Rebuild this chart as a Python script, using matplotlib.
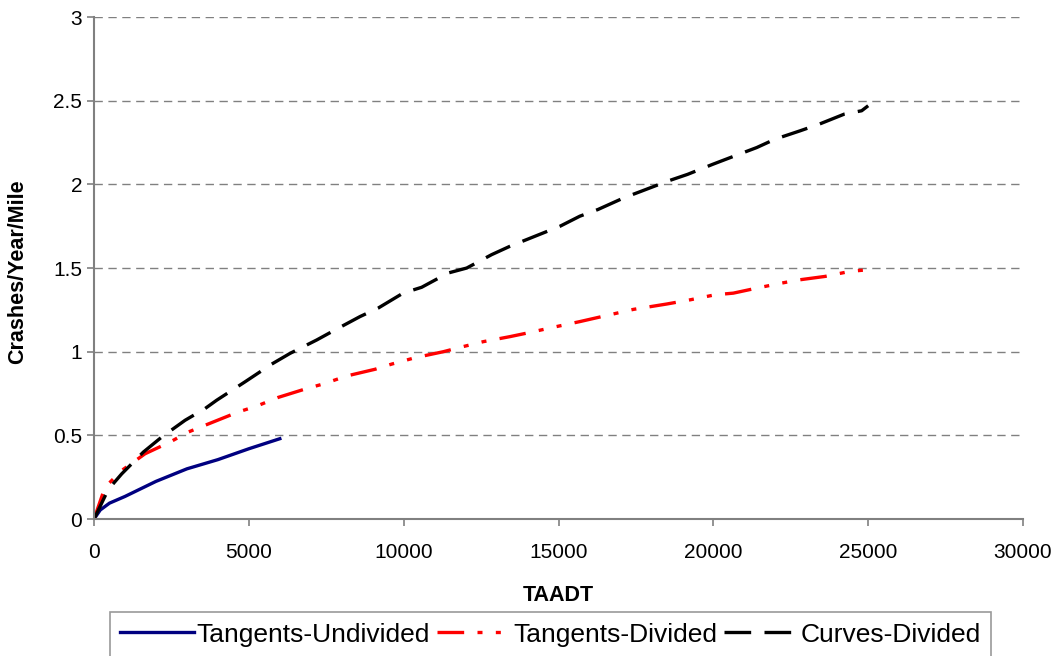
"""Crashes per year per mile versus TAADT for three segment types."""
import numpy as np
from matplotlib import pyplot as plt

plt.rcParams['font.family'] = ['Liberation Sans', 'DejaVu Sans']

# Tangents-Undivided
tu_x = [0, 200, 500, 1000, 2000, 3000, 4000, 5000, 6000]
tu_y = [0, 0.054, 0.095, 0.135, 0.225, 0.30, 0.355, 0.42, 0.48]

# Tangents-Divided
td_x = [0, 355, 894, 1647, 2454, 3045, 3850, 4660, 5253, 5950, 6870, 7400, 8160,
        9075, 9613, 10365, 11280, 11820, 12570, 13430, 14025, 14830, 15690,
        17420, 18495, 19250, 20050, 20645, 21400, 22200, 22800, 23610, 24410, 25000]
td_y = [0, 0.19, 0.29, 0.39, 0.46, 0.52, 0.58, 0.64, 0.675, 0.727, 0.78, 0.807,
        0.855, 0.895, 0.926, 0.964, 1.0, 1.026, 1.06, 1.09, 1.113, 1.146, 1.18,
        1.253, 1.285, 1.31, 1.34, 1.35, 1.38, 1.41, 1.43, 1.45, 1.48, 1.49]

# Curves-Divided
cd_x = [0, 460, 894, 1592, 2186, 2939, 3584, 3960, 4876, 5738, 6330, 7190, 7782,
        8590, 9170, 9980, 10580, 11430, 12035, 12840, 13430, 15050, 15690, 16275,
        17115, 17686, 18535, 19170, 19980, 20545, 21400, 21990, 22800, 23420,
        24230, 24790, 25000]
cd_y = [0, 0.177, 0.27, 0.40, 0.49, 0.59, 0.66, 0.71, 0.82, 0.926, 0.99, 1.07,
        1.13, 1.21, 1.26, 1.35, 1.385, 1.47, 1.50, 1.58, 1.63, 1.75, 1.81, 1.85,
        1.92, 1.96, 2.02, 2.06, 2.12, 2.16, 2.22, 2.27, 2.32, 2.36, 2.42, 2.44, 2.47]


def crash_plot():
    fig = plt.figure(figsize=(10.59, 6.56), dpi=100)
    ax = fig.add_axes([0.0888, 0.2088, 0.8772, 0.7652])

    ax.plot(tu_x, tu_y, color='#000080', lw=2.4, label='Tangents-Undivided')
    ax.plot(td_x, td_y, color='#ff0000', lw=2.4, dashes=(8, 4, 1.5, 4, 1.5, 4),
            label='Tangents-Divided')
    ax.plot(cd_x, cd_y, color='black', lw=2.4, dashes=(8, 4),
            label='Curves-Divided')

    ax.set_xlim(0, 30000)
    ax.set_ylim(0, 3)
    ax.set_xticks(np.arange(0, 30001, 5000))
    ax.set_yticks([0, 0.5, 1, 1.5, 2, 2.5, 3])
    ax.set_yticklabels(['0', '0.5', '1', '1.5', '2', '2.5', '3'])
    ax.yaxis.grid(True, color='#808080', linestyle=(0, (6, 4)), lw=1)
    ax.set_axisbelow(True)

    for s in ['top', 'right']:
        ax.spines[s].set_visible(False)
    for s in ['left', 'bottom']:
        ax.spines[s].set_color('#808080')
        ax.spines[s].set_linewidth(1.5)
    ax.tick_params(colors='#808080', labelcolor='black', labelsize=15,
                   length=5, width=1.2, direction='out')
    ax.tick_params(axis='x', pad=12)

    ax.set_xlabel('TAADT', fontsize=15.5, fontweight='bold')
    ax.set_ylabel('Crashes/Year/Mile', fontsize=15.5, fontweight='bold')
    ax.xaxis.set_label_coords(0.4995, -0.131)
    ax.yaxis.set_label_coords(-0.0705, 0.493)

    leg = fig.legend(loc='upper center', bbox_to_anchor=(0.5198, 0.0671), ncol=3,
                     fontsize=19, frameon=True, fancybox=False, handlelength=2.8,
                     handletextpad=0.1, columnspacing=0.25, borderpad=0.4,
                     borderaxespad=0, edgecolor='#808080')
    leg.get_frame().set_linewidth(1.2)

    fig.savefig('out.png', dpi=100)


if __name__ == '__main__':
    crash_plot()
